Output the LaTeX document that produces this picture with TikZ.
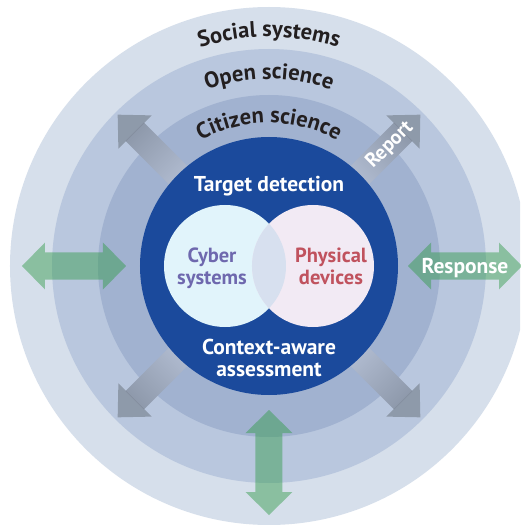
\documentclass[tikz,border=0pt]{standalone}
\usepackage{fontspec}
\setmainfont{PT Sans}
\usetikzlibrary{decorations.text}

\definecolor{ringA}{HTML}{D6DFEB}
\definecolor{ringB}{HTML}{B9C7DE}
\definecolor{ringC}{HTML}{A1B2D0}
\definecolor{core}{HTML}{1B4A9C}
\definecolor{cyberfill}{HTML}{E1F4FB}
\definecolor{physfill}{HTML}{F2EAF4}
\definecolor{overlapfill}{HTML}{D7E0EF}
\definecolor{cybertext}{HTML}{6E68AE}
\definecolor{phystext}{HTML}{C0525E}
\definecolor{labeltext}{HTML}{231F20}
\definecolor{flowgreen}{HTML}{2E9A45}
\definecolor{arrowgray}{HTML}{7D8795}
\definecolor{shaftlight}{HTML}{B2BDD2}
\definecolor{shaftdark}{HTML}{808EA7}
\definecolor{shaftend}{HTML}{8E99AB}

\newcommand\ringfont{\bfseries\fontsize{22.5}{22.5}\selectfont}
% double-headed arrow outline running along local x from #1 to #2
\newcommand\dblarrow[2]{(#1,0) -- ({#1+23},23.5) -- ({#1+23},13.5) -- ({#2-23},13.5) -- ({#2-23},23.5) -- (#2,0) -- ({#2-23},-23.5) -- ({#2-23},-13.5) -- ({#1+23},-13.5) -- ({#1+23},-23.5) -- cycle}

\begin{document}
\begin{tikzpicture}[x=1pt,y=1pt,
  ringlabel/.style={decorate, decoration={text along path, text align=center, text color=labeltext}},
  maintext/.style={text=white, font=\bfseries\fontsize{21.5}{21.5}\selectfont, inner sep=0pt, anchor=base},
  venntext/.style={font=\bfseries\fontsize{20.5}{20.5}\selectfont, inner sep=0pt, anchor=base},
  greenflow/.style={fill=flowgreen, fill opacity=0.45},
  grayhead/.style={fill=arrowgray, fill opacity=0.7}]
\useasboundingbox (-269,-259) rectangle (251,266);

% concentric rings
\begin{scope}
  \clip (-269,-259) rectangle (251,266);
  \fill[ringA] (0,0) circle (259);
  \fill[ringB] (0,0) circle (217);
  \fill[ringC] (0,0) circle (171);
\end{scope}

% diagonal outward arrows
\foreach \ang in {135,-45,-135}{
  \begin{scope}[transform canvas={rotate=\ang}]
    \shade[left color=shaftlight, middle color=shaftdark, right color=shaftend] (120,-13) rectangle (190,13);
    \fill[grayhead] (189.5,-23.5) -- (214,0) -- (189.5,23.5) -- cycle;
  \end{scope}
}
\begin{scope}[transform canvas={rotate=45}]
  \shade[left color=shaftlight, middle color=shaftdark, right color=shaftend] (120,-13) rectangle (190,13);
  \fill[grayhead] (189.5,-23.5) -- (214,0) -- (189.5,23.5) -- cycle;
  \node[text=white, font=\bfseries\fontsize{20}{20}\selectfont, inner sep=0pt] (report) at (171,0) {Report};
\end{scope}

% core circle
\fill[core] (0,0) circle (129);

% two overlapping circles
\fill[cyberfill] (-44,0) circle (61);
\fill[physfill] (44,0) circle (61);
\begin{scope}
  \clip (-44,0) circle (61);
  \fill[overlapfill] (44,0) circle (61);
\end{scope}

% green two-way arrows
\begin{scope}[transform canvas={rotate=180}]
  \fill[greenflow] \dblarrow{143}{247};
\end{scope}
\begin{scope}[transform canvas={rotate=-90}]
  \fill[greenflow] \dblarrow{144}{249};
\end{scope}
\fill[greenflow] \dblarrow{139}{253};
\node[maintext] (response) at (196,-7) {Response};

% ring labels
\path[ringlabel, decoration={text={|\ringfont|Social systems}}]
  (160:229) arc[start angle=160, end angle=20, radius=229];
\path[ringlabel, decoration={text={|\ringfont|Open science}}]
  (160:187) arc[start angle=160, end angle=20, radius=187];
\path[ringlabel, decoration={text={|\ringfont|Citizen science}}]
  (160:143) arc[start angle=160, end angle=20, radius=143];

% core texts
\node[maintext] (target) at (0,74) {Target detection};
\node[maintext] (context) at (0,-88) {Context-aware};
\node[maintext] (assess) at (0,-110) {assessment};
\node[venntext, text=cybertext] (cyber) at (-57,4) {Cyber};
\node[venntext, text=cybertext] (cybersys) at (-57,-18) {systems};
\node[venntext, text=phystext] (physical) at (62,4) {Physical};
\node[venntext, text=phystext] (devices) at (62,-18) {devices};
\end{tikzpicture}
\end{document}
